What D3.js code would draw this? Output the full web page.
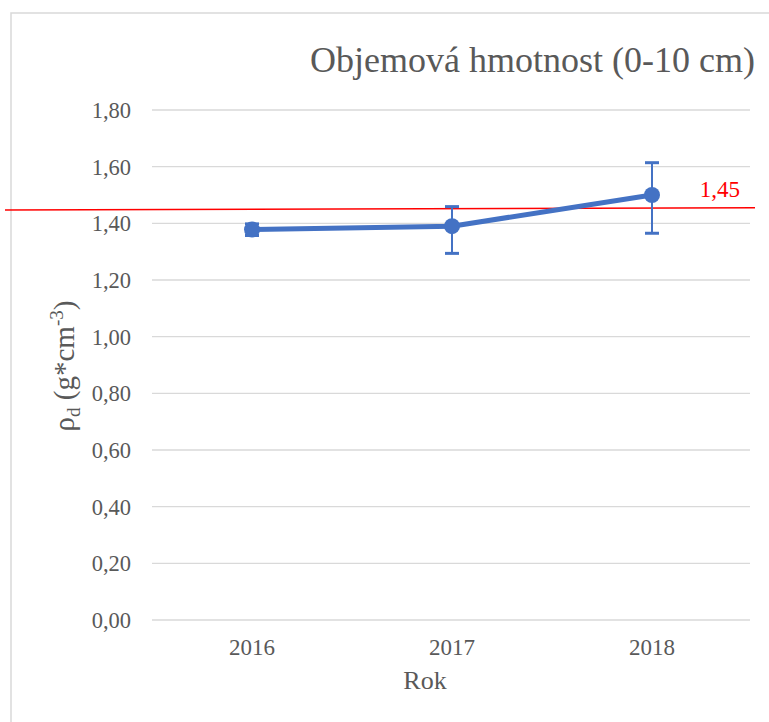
<!DOCTYPE html>
<html><head><meta charset="utf-8"><script src="https://cdn.jsdelivr.net/npm/d3@7"></script></head>
<body style="margin:0">
<svg id="chart" width="769" height="722"></svg>
<script>
// data
const years = ["2016", "2017", "2018"];
const means = [1.378, 1.39, 1.50];
const lows = [1.357, 1.294, 1.365];
const highs = [1.398, 1.459, 1.614];
const yTicks = [0, 0.2, 0.4, 0.6, 0.8, 1.0, 1.2, 1.4, 1.6, 1.8];
const limitValue = 1.45;
const limitEnds = [1.447, 1.455]; // the red line is drawn slightly tilted

const grey = "#595959";
const face = '"Liberation Serif", "Tinos", "Times New Roman", "FreeSerif", serif';
const svg = d3.select("#chart");

// helper: every text in the chart uses the same serif face
function label(sel, size, color) {
    return sel.style("font-family", face, "important")
        .style("font-size", size)
        .style("fill", color || grey);
}

// outer chart frame (goes off the right and bottom edge)
svg.append("rect")
    .attr("x", 11).attr("y", 13)
    .attr("width", 800).attr("height", 760)
    .attr("fill", "none")
    .attr("stroke", "#d9d9d9")
    .attr("stroke-width", 1.5);

const x = d3.scaleBand().domain(years).range([152, 752]);
const y = d3.scaleLinear().domain([0, 1.8]).range([620, 110]);

// gridlines
svg.append("g")
    .selectAll("line")
    .data(yTicks)
    .join("line")
    .attr("x1", 152).attr("x2", 750)
    .attr("y1", d => y(d)).attr("y2", d => y(d))
    .attr("stroke", "#d9d9d9")
    .attr("stroke-width", 1.3);

// y tick labels
const fmt = d => d.toFixed(2).replace(".", ",");
label(svg.append("g")
    .selectAll("text")
    .data(yTicks)
    .join("text")
    .attr("x", 131)
    .attr("y", d => y(d) + 8)
    .attr("text-anchor", "end"), "22.5px")
    .text(fmt);

// x tick labels
label(svg.append("g")
    .selectAll("text")
    .data(years)
    .join("text")
    .attr("x", d => x(d) + x.bandwidth() / 2)
    .attr("y", 655)
    .attr("text-anchor", "middle"), "23px")
    .text(d => d);

// red limit line
svg.append("line")
    .attr("x1", 5).attr("x2", 755)
    .attr("y1", y(limitEnds[0])).attr("y2", y(limitEnds[1]))
    .attr("stroke", "#ff0000")
    .attr("stroke-width", 1.5);

label(svg.append("text")
    .attr("x", 740)
    .attr("y", 197)
    .attr("text-anchor", "end"), "23px", "#ff0000")
    .text(fmt(limitValue));

const pts = years.map((yr, i) => ({
    cx: x(yr) + x.bandwidth() / 2, m: means[i], lo: lows[i], hi: highs[i]
}));

const blue = "#4472c4";

// error bars
const err = svg.append("g").attr("stroke", blue);
err.selectAll("line.v")
    .data(pts)
    .join("line")
    .attr("class", "v")
    .attr("x1", d => d.cx).attr("x2", d => d.cx)
    .attr("y1", d => y(d.lo)).attr("y2", d => y(d.hi))
    .attr("stroke-width", 2);
err.selectAll("line.cap")
    .data(pts.flatMap(d => [{cx: d.cx, v: d.lo}, {cx: d.cx, v: d.hi}]))
    .join("line")
    .attr("class", "cap")
    .attr("x1", d => d.cx - 7).attr("x2", d => d.cx + 7)
    .attr("y1", d => y(d.v)).attr("y2", d => y(d.v))
    .attr("stroke-width", 3);

// series line
svg.append("path")
    .datum(pts)
    .attr("fill", "none")
    .attr("stroke", blue)
    .attr("stroke-width", 5)
    .attr("stroke-linejoin", "round")
    .attr("d", d3.line().x(d => d.cx).y(d => y(d.m)));

svg.append("g")
    .selectAll("circle")
    .data(pts)
    .join("circle")
    .attr("cx", d => d.cx)
    .attr("cy", d => y(d.m))
    .attr("r", 8)
    .attr("fill", blue);

// title
label(svg.append("text")
    .attr("x", 310)
    .attr("y", 72), "36px")
    .text("Objemová hmotnost (0-10 cm)");

// axis titles
label(svg.append("text")
    .attr("x", 425)
    .attr("y", 689)
    .attr("text-anchor", "middle"), "26px")
    .text("Rok");

const yl = label(svg.append("text")
    .attr("transform", "translate(74,366) rotate(-90)")
    .attr("text-anchor", "middle"), "29px");
yl.append("tspan").text("ρ");
yl.append("tspan").style("font-size", "19px").attr("dy", 6).text("d");
yl.append("tspan").attr("dy", -6).text(" (g*cm");
yl.append("tspan").style("font-size", "19px").attr("dy", -11).text("-3");
yl.append("tspan").attr("dy", 11).text(")");
</script>
</body>
</html>
